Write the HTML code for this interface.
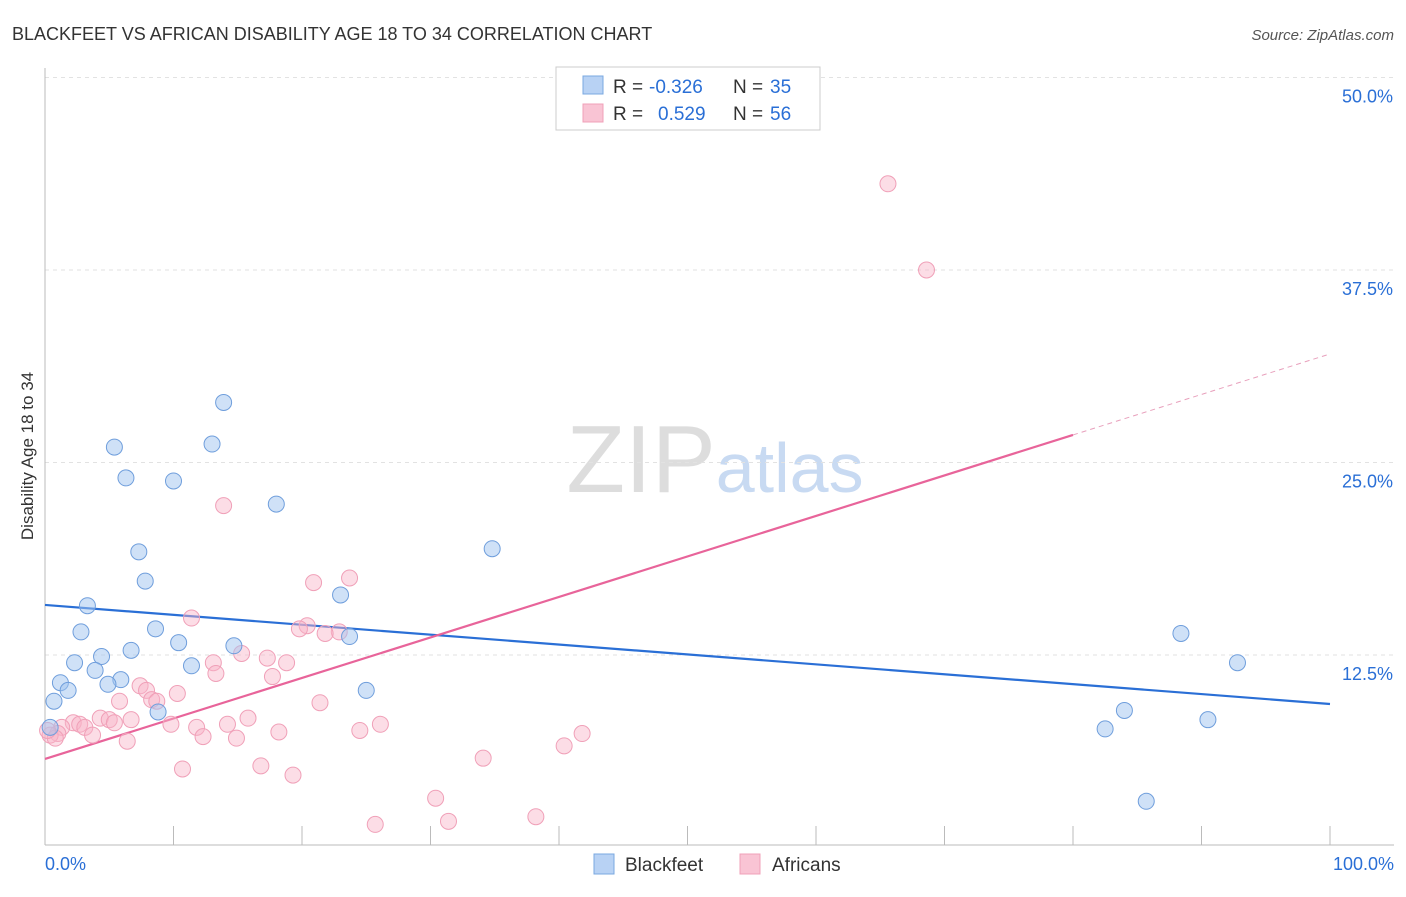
<!DOCTYPE html>
<html><head><meta charset="utf-8"><style>
body{margin:0;background:#fff;font-family:"Liberation Sans",sans-serif;}
svg text{font-family:"Liberation Sans",sans-serif;}
</style></head><body>
<svg id="chart" width="1406" height="892" xmlns="http://www.w3.org/2000/svg">
<text x="12" y="40" font-size="18" fill="#333">BLACKFEET VS AFRICAN DISABILITY AGE 18 TO 34 CORRELATION CHART</text>
<text x="1394" y="40" font-size="15" fill="#555" font-style="italic" text-anchor="end">Source: ZipAtlas.com</text>
<text x="715" y="492" font-size="96" text-anchor="middle" fill="#ddd" font-family="Liberation Serif"><tspan>ZIP</tspan><tspan fill="#c8daf2" font-family="Liberation Sans" font-size="70">atlas</tspan></text>
<text transform="translate(33,456) rotate(-90)" font-size="17" fill="#333" text-anchor="middle">Disability Age 18 to 34</text>
<g id="grid"></g><g id="axes"></g><g id="lines"></g><g id="points"></g>
<g>
<rect x="556" y="67" width="264" height="63" fill="#fff" stroke="#ccc"/>
<rect x="583" y="76" width="20" height="18" fill="#b8d2f4" stroke="#7aa8e0"/>
<text x="613" y="93" font-size="19" fill="#333">R =</text>
<text x="649" y="93" font-size="19" fill="#2a6fd6">-0.326</text>
<text x="733" y="93" font-size="19" fill="#333">N =</text>
<text x="770" y="93" font-size="19" fill="#2a6fd6">35</text>
<rect x="583" y="104" width="20" height="18" fill="#f9c4d4" stroke="#f0a0b8"/>
<text x="613" y="120" font-size="19" fill="#333">R =</text>
<text x="658" y="120" font-size="19" fill="#2a6fd6">0.529</text>
<text x="733" y="120" font-size="19" fill="#333">N =</text>
<text x="770" y="120" font-size="19" fill="#2a6fd6">56</text>
</g>
<g>
<rect x="594" y="854" width="20" height="20" fill="#b8d2f4" stroke="#7aa8e0"/>
<text x="625" y="871" font-size="19" fill="#333">Blackfeet</text>
<rect x="740" y="854" width="20" height="20" fill="#f9c4d4" stroke="#f0a0b8"/>
<text x="772" y="871" font-size="19" fill="#333">Africans</text>
</g>
</svg>
<script>
const yTicks=[12.5,25,37.5,50];
const yTickLabels=["12.5%","25.0%","37.5%","50.0%"];
const xTickVals=[0,10,20,30,40,50,60,70,80,90,100];
const blueX=[13.9,5.4,13.0,6.3,10.0,18.0,7.3,34.8,7.8,23.0,3.3,2.8,8.6,10.4,14.7,23.7,6.7,4.4,2.3,11.4,3.9,5.9,1.2,4.9,1.8,25.0,0.7,8.8,88.4,92.8,84.0,82.5,90.5,85.7,0.4];
const blueY=[28.9,26.0,26.2,24.0,23.8,22.3,19.2,19.4,17.3,16.4,15.7,14.0,14.2,13.3,13.1,13.7,12.8,12.4,12.0,11.8,11.5,10.9,10.7,10.6,10.2,10.2,9.5,8.8,13.9,12.0,8.9,7.7,8.3,3.0,7.8];
const pinkX=[65.6,68.6,13.9,23.7,20.9,11.4,20.4,19.8,22.9,21.8,13.1,15.3,17.3,18.8,13.3,17.7,7.4,7.9,10.3,8.3,8.7,21.4,5.8,15.8,4.3,5.0,5.4,6.7,2.2,2.7,3.1,9.8,11.8,14.2,26.1,24.5,18.2,1.3,1.0,3.7,12.3,14.9,6.4,41.8,40.4,34.1,10.7,16.8,19.3,30.4,31.4,38.2,25.7,0.4,0.8,0.2];
const pinkY=[43.1,37.5,22.2,17.5,17.2,14.9,14.4,14.2,14.0,13.9,12.0,12.6,12.3,12.0,11.3,11.1,10.5,10.2,10.0,9.6,9.5,9.4,9.5,8.4,8.4,8.3,8.1,8.3,8.1,8.0,7.8,8.0,7.8,8.0,8.0,7.6,7.5,7.8,7.4,7.3,7.2,7.1,6.9,7.4,6.6,5.8,5.1,5.3,4.7,3.2,1.7,2.0,1.5,7.3,7.1,7.6];
const blueLine=[15.75,9.32];
const pinkLine=[5.75,32.05];
const pinkSolidEnd=80;
const NS="http://www.w3.org/2000/svg";
const sx=v=>45+v*12.85, sy=v=>847.5-v*15.4;
function mk(t,a,p){const e=document.createElementNS(NS,t);for(const k in a)e.setAttribute(k,a[k]);p.appendChild(e);return e;}
const grid=document.getElementById('grid'),axes=document.getElementById('axes'),lines=document.getElementById('lines'),pts=document.getElementById('points');
yTicks.forEach((t,i)=>{
 const l=mk('line',{x1:45,x2:1394,y1:sy(t),y2:sy(t),stroke:'#e2e2e2','stroke-dasharray':'4,4'},grid);
 
 
 const tx=mk('text',{x:1393,y:sy(t)+25,'font-size':18,fill:'#2a6fd6','text-anchor':'end'},grid);
 tx.textContent=yTickLabels[i];
 
 
});
const ax=mk('line',{x1:45,x2:45,y1:68,y2:845,stroke:'#bbb'},axes);


const bx=mk('line',{x1:45,x2:1394,y1:845,y2:845,stroke:'#bbb'},axes);


xTickVals.forEach(v=>{
 const t=mk('line',{x1:sx(v),x2:sx(v),y1:826,y2:845,stroke:'#bbb'},axes);
 
 
});
[[0,'0.0%',45,'start'],[100,'100.0%',1394,'end']].forEach(a=>{
 const t=mk('text',{x:a[2],y:870,'font-size':18,fill:'#2a6fd6','text-anchor':a[3]},axes);t.textContent=a[1];
 
 
});
function lv(L,x){return L[0]+(L[1]-L[0])*x/100;}
const bl=mk('line',{x1:sx(0),y1:sy(lv(blueLine,0)),x2:sx(100),y2:sy(lv(blueLine,100)),stroke:'#2a6fd6','stroke-width':2.2},lines);


const pl=mk('line',{x1:sx(0),y1:sy(lv(pinkLine,0)),x2:sx(pinkSolidEnd),y2:sy(lv(pinkLine,pinkSolidEnd)),stroke:'#e8649a','stroke-width':2.2},lines);


const pd=mk('line',{x1:sx(pinkSolidEnd),y1:sy(lv(pinkLine,pinkSolidEnd)),x2:sx(100),y2:sy(lv(pinkLine,100)),stroke:'#e8a0bc','stroke-width':1,'stroke-dasharray':'5,4'},lines);


pinkX.forEach((x,i)=>{
 const c=mk('circle',{cx:sx(x),cy:sy(pinkY[i]),r:8,fill:'rgba(248,180,200,0.45)',stroke:'#f0a0b8','stroke-width':1},pts);
 
 
});
blueX.forEach((x,i)=>{
 const c=mk('circle',{cx:sx(x),cy:sy(blueY[i]),r:8,fill:'rgba(160,196,240,0.5)',stroke:'#6f9edc','stroke-width':1},pts);
 
 
});
</script>
</body></html>
